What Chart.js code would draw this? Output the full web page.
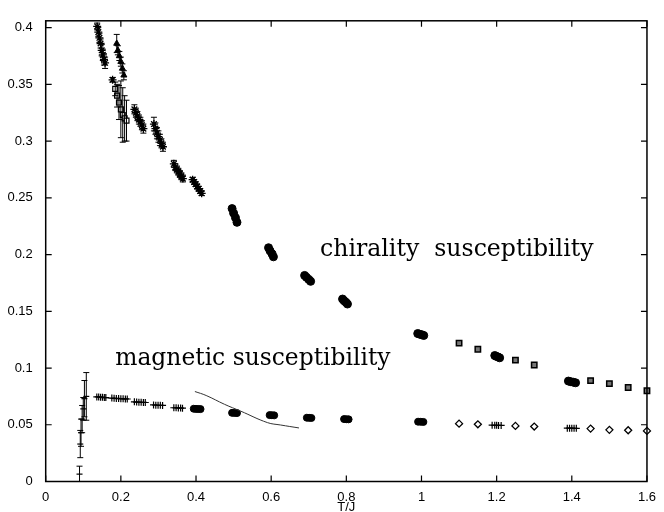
<!DOCTYPE html>
<html>
<head>
<meta charset="utf-8">
<script src="https://cdn.jsdelivr.net/npm/chart.js@4"></script>
<style>
html, body { margin: 0; padding: 0; background: #fff; overflow: hidden; }
</style>
</head>
<body>
<canvas id="chart" width="664" height="522"></canvas>
<script>
// axis ticks
const xTicks = [0, 0.2, 0.4, 0.6, 0.8, 1, 1.2, 1.4, 1.6];
const xTickLabels = ['0', '0.2', '0.4', '0.6', '0.8', '1', '1.2', '1.4', '1.6'];
const yTicks = [0, 0.05, 0.1, 0.15, 0.2, 0.25, 0.3, 0.35, 0.4];
const yTickLabels = ['0', '0.05', '0.1', '0.15', '0.2', '0.25', '0.3', '0.35', '0.4'];

// chirality susceptibility, star symbols
const chiStarT = [0.137, 0.140, 0.143, 0.146, 0.149, 0.152, 0.155, 0.158,
  0.178,
  0.236, 0.240, 0.244, 0.248, 0.252, 0.256, 0.260,
  0.288, 0.292, 0.296, 0.300, 0.304, 0.308, 0.312,
  0.341, 0.345, 0.349, 0.353, 0.357, 0.361, 0.365,
  0.391, 0.395, 0.399, 0.403, 0.407, 0.411, 0.415];
const chiStarV = [0.401, 0.396, 0.391, 0.386, 0.380, 0.376, 0.372, 0.369,
  0.354,
  0.328, 0.325, 0.322, 0.319, 0.317, 0.314, 0.311,
  0.315, 0.311, 0.307, 0.304, 0.301, 0.298, 0.295,
  0.280, 0.277, 0.275, 0.273, 0.271, 0.269, 0.267,
  0.266, 0.264, 0.262, 0.260, 0.258, 0.256, 0.254];
const chiStarErr = [0.003, 0.004, 0.004, 0.004, 0.005, 0.005, 0.005, 0.005,
  0.002,
  0.004, 0.004, 0.004, 0.004, 0.004, 0.004, 0.004,
  0.006, 0.005, 0.005, 0.005, 0.005, 0.004, 0.004,
  0.003, 0.003, 0.003, 0.003, 0.003, 0.003, 0.003,
  0.002, 0.002, 0.002, 0.002, 0.002, 0.002, 0.002];

// chirality, triangles
const chiTriT = [0.189, 0.192, 0.196, 0.200, 0.204, 0.208];
const chiTriV = [0.386, 0.380, 0.375, 0.370, 0.364, 0.358];
const chiTriErr = [0.008, 0.004, 0.004, 0.004, 0.004, 0.004];

// chirality, squares with large errors
const chiSqT = [0.185, 0.190, 0.195, 0.200, 0.205, 0.210, 0.215];
const chiSqV = [0.346, 0.340, 0.334, 0.328, 0.323, 0.320, 0.318];
const chiSqErr = [0.006, 0.010, 0.015, 0.025, 0.024, 0.020, 0.018];

// chirality, filled clusters
const chiBlobT = [0.496, 0.500, 0.505, 0.509,
  0.593, 0.597, 0.602, 0.606,
  0.689, 0.694, 0.700, 0.705,
  0.790, 0.794, 0.799, 0.803,
  0.990, 0.995, 1.001, 1.006,
  1.195, 1.199, 1.204, 1.208,
  1.391, 1.397, 1.404, 1.410];
const chiBlobV = [0.2405, 0.2365, 0.2325, 0.2284,
  0.2060, 0.2033, 0.2007, 0.1980,
  0.1816, 0.1799, 0.1781, 0.1764,
  0.1608, 0.1593, 0.1579, 0.1564,
  0.1304, 0.1298, 0.1293, 0.1287,
  0.1110, 0.1103, 0.1097, 0.1090,
  0.0885, 0.0880, 0.0875, 0.0870];

// chirality, single squares at high T
const chiBoxT = [1.1, 1.15, 1.25, 1.3, 1.45, 1.5, 1.55, 1.6];
const chiBoxV = [0.122, 0.1166, 0.107, 0.1027, 0.0889, 0.0862, 0.0828, 0.080];

// magnetic susceptibility, low T crosses with errors
const magLowT = [0.090, 0.092, 0.094, 0.097, 0.100, 0.103, 0.108];
const magLowV = [0.0065, 0.033, 0.043, 0.055, 0.064, 0.073, 0.075];
const magLowErr = [0.007, 0.012, 0.012, 0.012, 0.010, 0.016, 0.021];

// magnetic, crosses
const magCrossT = [0.136, 0.141, 0.146, 0.151, 0.156, 0.160,
  0.176, 0.182, 0.188, 0.194, 0.200, 0.206, 0.212, 0.217,
  0.236, 0.242, 0.248, 0.254, 0.260, 0.265,
  0.287, 0.293, 0.299, 0.305, 0.311,
  0.341, 0.347, 0.353, 0.359, 0.364,
  1.188, 1.195, 1.200, 1.205, 1.212,
  1.388, 1.394, 1.400, 1.406, 1.412];
const magCrossV = [0.0745, 0.0745, 0.0743, 0.0742, 0.074, 0.074,
  0.0735, 0.0733, 0.0732, 0.0731, 0.073, 0.0729, 0.0728, 0.0727,
  0.0702, 0.0700, 0.0699, 0.0698, 0.0697, 0.0696,
  0.0675, 0.0673, 0.0672, 0.0671, 0.067,
  0.065, 0.0649, 0.0648, 0.0647, 0.0646,
  0.0496, 0.0495, 0.0495, 0.0494, 0.0494,
  0.047, 0.047, 0.047, 0.0469, 0.0469];

// magnetic, filled clusters
const magBlobT = [0.394, 0.400, 0.406, 0.412,
  0.496, 0.5025, 0.509,
  0.596, 0.602, 0.608,
  0.695, 0.701, 0.707,
  0.794, 0.800, 0.806,
  0.991, 0.998, 1.005];
const magBlobV = [0.0641, 0.064, 0.0639, 0.0638,
  0.0605, 0.0604, 0.0603,
  0.0585, 0.0584, 0.0583,
  0.0562, 0.0561, 0.056,
  0.055, 0.0549, 0.0548,
  0.0527, 0.0526, 0.0525];

// magnetic, diamonds
const magDiaT = [1.1, 1.15, 1.25, 1.3, 1.45, 1.5, 1.55, 1.6];
const magDiaV = [0.051, 0.0504, 0.049, 0.0484, 0.0466, 0.0455, 0.0452, 0.0446];

// thin curve
const curveT = [0.397, 0.427, 0.476, 0.519, 0.59, 0.625, 0.674];
const curveV = [0.0793, 0.0758, 0.068, 0.062, 0.0519, 0.0498, 0.0472];

const pts = (t, v) => t.map((x, i) => ({ x: x, y: v[i] }));

let errBars = {
  id: 'errBars',
  afterDatasetsDraw(chart) {
    const { ctx, scales: { x, y } } = chart;
    ctx.save();
    ctx.strokeStyle = '#000';
    ctx.lineWidth = 1;
    chart.data.datasets.forEach((ds) => {
      if (!ds.errs) return;
      ds.data.forEach((p, i) => {
        const px = x.getPixelForValue(p.x);
        const top = y.getPixelForValue(p.y + ds.errs[i]);
        const bot = y.getPixelForValue(Math.max(0, p.y - ds.errs[i]));
        ctx.beginPath();
        ctx.moveTo(px, top); ctx.lineTo(px, bot);
        ctx.moveTo(px - 3, top); ctx.lineTo(px + 3, top);
        ctx.moveTo(px - 3, bot); ctx.lineTo(px + 3, bot);
        ctx.stroke();
      });
    });
    ctx.restore();
  }
};

let frame = {
  id: 'frame',
  afterDraw(chart) {
    const { ctx, chartArea: a, scales: { x, y } } = chart;
    ctx.save();
    ctx.strokeStyle = '#000';
    ctx.lineWidth = 1.5;
    ctx.strokeRect(a.left, a.top, a.right - a.left, a.bottom - a.top);
    ctx.lineWidth = 1.2;
    ctx.beginPath();
    for (let v of xTicks) {
      const px = x.getPixelForValue(v);
      ctx.moveTo(px, a.bottom); ctx.lineTo(px, a.bottom - 6);
      ctx.moveTo(px, a.top); ctx.lineTo(px, a.top + 6);
    }
    for (let v of yTicks) {
      const py = y.getPixelForValue(v);
      ctx.moveTo(a.left, py); ctx.lineTo(a.left + 6, py);
      ctx.moveTo(a.right, py); ctx.lineTo(a.right - 6, py);
    }
    ctx.stroke();
    ctx.restore();
  }
};

let labels = {
  id: 'labels',
  afterDraw(chart) {
    const { ctx, scales: { x, y } } = chart;
    ctx.save();
    ctx.fillStyle = '#000';
    ctx.textBaseline = 'alphabetic';
    ctx.font = '23.6px "DejaVu Serif"';
    ctx.fillText('chirality  susceptibility', x.getPixelForValue(0.73), y.getPixelForValue(0.199));
    ctx.font = '23.4px "DejaVu Serif"';
    ctx.fillText('magnetic susceptibility', x.getPixelForValue(0.185), y.getPixelForValue(0.1027));
    ctx.restore();
  }
};

new Chart(document.getElementById('chart'), {
  type: 'scatter',
  data: {
    datasets: [{
        data: pts(curveT, curveV),
        type: 'line',
        showLine: true,
        borderColor: '#333',
        borderWidth: 1,
        pointRadius: 0,
        tension: 0.4,
        fill: false,
      }, {
        data: pts(chiStarT, chiStarV),
        errs: chiStarErr,
        pointStyle: 'star',
        pointRadius: 4,
        borderColor: '#000',
        borderWidth: 1.3,
      }, {
        data: pts(chiTriT, chiTriV),
        errs: chiTriErr,
        pointStyle: 'triangle',
        pointRadius: 3.5,
        backgroundColor: '#000',
        borderColor: '#000',
        borderWidth: 1,
      }, {
        data: pts(chiSqT, chiSqV),
        errs: chiSqErr,
        pointStyle: 'rect',
        pointRadius: 3.5,
        backgroundColor: '#fff',
        borderColor: '#000',
        borderWidth: 1.2,
      }, {
        data: pts(chiBlobT, chiBlobV),
        pointStyle: 'circle',
        pointRadius: 4,
        backgroundColor: '#000',
        borderColor: '#000',
        borderWidth: 1,
      }, {
        data: pts(chiBoxT, chiBoxV),
        pointStyle: 'rect',
        pointRadius: 3.8,
        backgroundColor: '#777',
        borderColor: '#000',
        borderWidth: 1.5,
      }, {
        data: pts(magLowT, magLowV),
        errs: magLowErr,
        pointStyle: 'line',
        pointRadius: 3,
        borderColor: '#000',
        borderWidth: 1.2,
      }, {
        data: pts(magCrossT, magCrossV),
        pointStyle: 'cross',
        pointRadius: 3.5,
        borderColor: '#000',
        borderWidth: 1.2,
      }, {
        data: pts(magBlobT, magBlobV),
        pointStyle: 'circle',
        pointRadius: 3.5,
        backgroundColor: '#000',
        borderColor: '#000',
        borderWidth: 1,
      }, {
        data: pts(magDiaT, magDiaV),
        pointStyle: 'rectRot',
        pointRadius: 3.5,
        backgroundColor: '#fff',
        borderColor: '#000',
        borderWidth: 1.3,
      }
    ]
  },
  options: {
    responsive: false,
    animation: false,
    events: [],
    layout: { padding: { top: 13, right: 10.7, left: 0, bottom: 0 } },
    plugins: {
      legend: { display: false },
      tooltip: { enabled: false },
    },
    datasets: { scatter: { clip: false } },
    scales: {
      x: {
        type: 'linear',
        min: 0,
        max: 1.6,
        afterBuildTicks: (s) => { s.ticks = xTicks.map(v => ({ value: v })); },
        afterFit: (s) => { s.height = 40.5; },
        grid: { display: false, drawTicks: false },
        border: { display: false },
        ticks: {
          padding: 8,
          color: '#000',
          font: { family: '"Liberation Sans", Arial, sans-serif', size: 13 },
          callback: (v, i) => xTickLabels[i],
          maxRotation: 0,
        },
        title: {
          display: true,
          text: 'T/J',
          color: '#000',
          padding: { top: 0, bottom: 7 },
          font: { family: '"Liberation Sans", Arial, sans-serif', size: 13 },
        },
      },
      y: {
        type: 'linear',
        min: 0,
        max: 0.406,
        afterBuildTicks: (s) => { s.ticks = yTicks.map(v => ({ value: v })); },
        afterFit: (s) => { s.width = 45.7; },
        grid: { display: false, drawTicks: false },
        border: { display: false },
        ticks: {
          padding: 13,
          color: '#000',
          font: { family: '"Liberation Sans", Arial, sans-serif', size: 13 },
          callback: (v, i) => yTickLabels[i],
        },
      },
    },
  },
  plugins: [errBars, frame, labels],
});
</script>
</body>
</html>
